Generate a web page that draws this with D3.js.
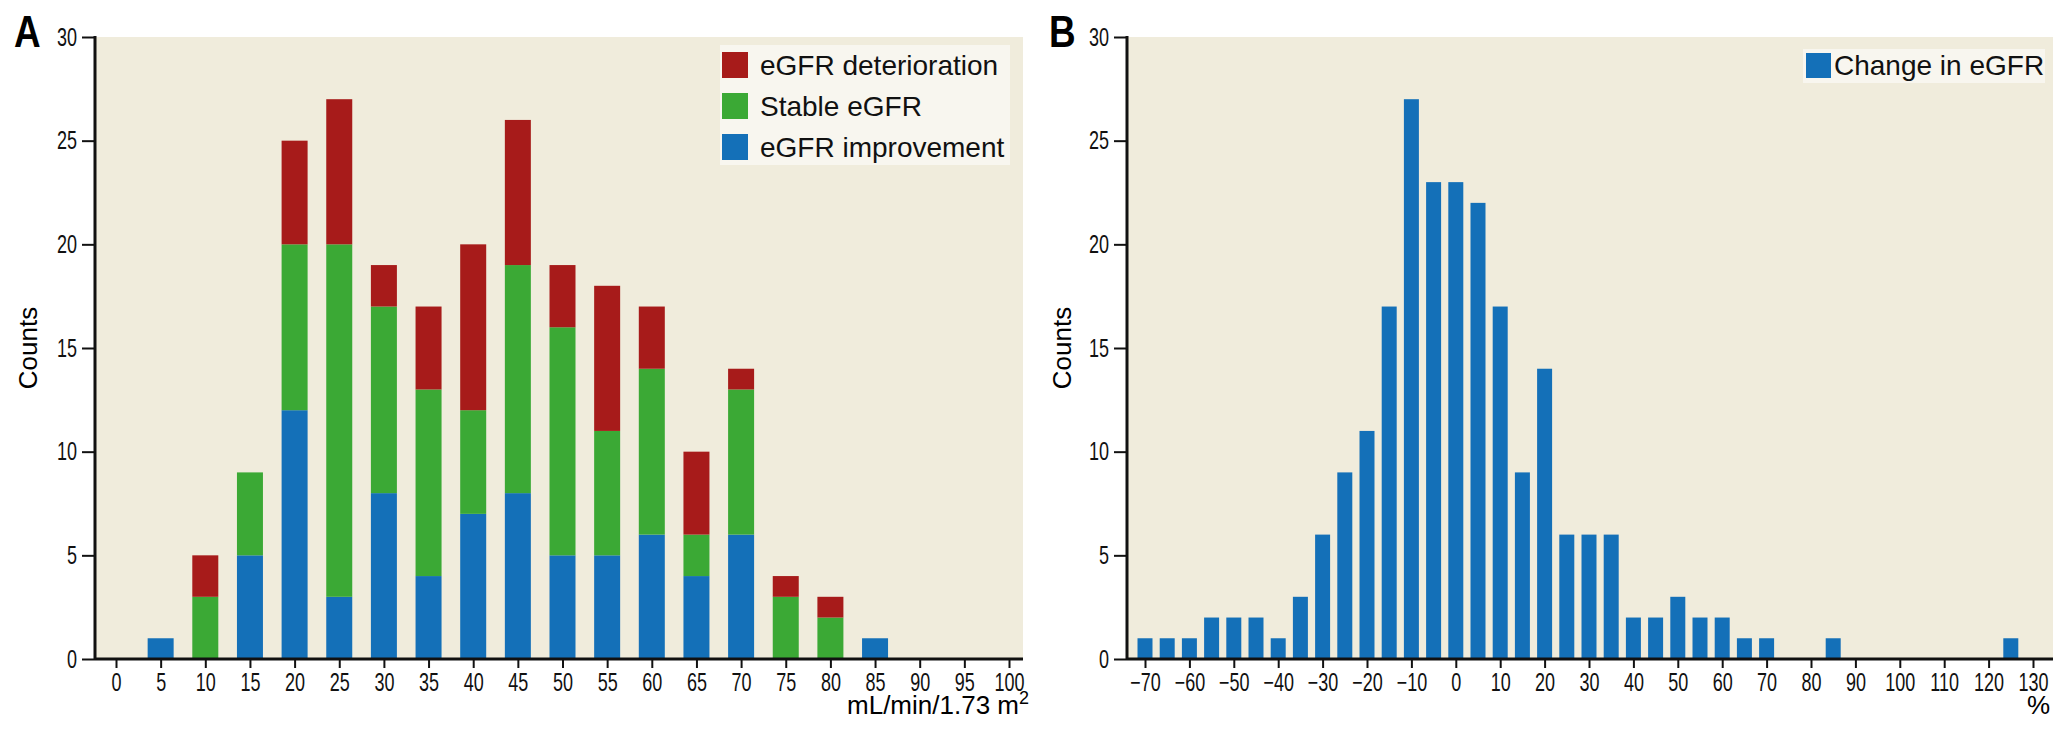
<!DOCTYPE html>
<html>
<head>
<meta charset="utf-8">
<script src="https://cdn.jsdelivr.net/npm/d3@7"></script>
<style>
  body { margin: 0; background: #fff; }
  svg { display: block; }
  .tick text { font-family: "Liberation Sans", Arial, sans-serif; font-size: 25px; fill: #111; }
</style>
</head>
<body>
<svg id="chart" width="2068" height="731"></svg>
<script>
// panel A: eGFR bins (mL/min/1.73 m2)
var binsA = [5, 10, 15, 20, 25, 30, 35, 40, 45, 50, 55, 60, 65, 70, 75, 80, 85];
var improvement = [1, 0, 5, 12, 3, 8, 4, 7, 8, 5, 5, 6, 4, 6, 0, 0, 1];
var stable = [0, 3, 4, 8, 17, 9, 9, 5, 11, 11, 6, 8, 2, 7, 3, 2, 0];
var deterioration = [0, 2, 0, 5, 7, 2, 4, 8, 7, 3, 7, 3, 4, 1, 1, 1, 0];
var seriesA = ["eGFR improvement", "Stable eGFR", "eGFR deterioration"];
var ticksA = d3.range(0, 101, 5);

// panel B: change in eGFR (%)
var binsB = [-70, -65, -60, -55, -50, -45, -40, -35, -30, -25, -20, -15, -10, -5, 0, 5, 10, 15, 20, 25, 30, 35, 40, 45, 50, 55, 60, 65, 70, 75, 80, 85, 90, 95, 100, 105, 110, 115, 120, 125];
var changeB = [1, 1, 1, 2, 2, 2, 1, 3, 6, 9, 11, 17, 27, 23, 23, 22, 17, 9, 14, 6, 6, 6, 2, 2, 3, 2, 2, 1, 1, 0, 0, 1, 0, 0, 0, 0, 0, 0, 0, 1];
var ticksB = d3.range(-70, 131, 10);

var colors = { "eGFR improvement": "#1470b8", "Stable eGFR": "#3ba935", "eGFR deterioration": "#a71b1a" };
var bg = "#f0ecdc";
var sans = '"Liberation Sans", Arial, sans-serif';
var squeeze = 0.72;

var svg = d3.select("#chart");
var plotTop = 37, plotBottom = 659;
var y = d3.scaleLinear().domain([0, 30]).range([plotBottom, plotTop]);

function frame(left, right, letter, letterX, countsX) {
    svg.append("rect")
        .attr("x", left).attr("y", plotTop)
        .attr("width", right - left).attr("height", plotBottom - plotTop)
        .attr("fill", bg);

    svg.append("text")
        .text(letter)
        .attr("transform", `translate(${letterX},47) scale(0.82,1)`)
        .style("font-family", sans)
        .style("font-weight", "bold")
        .style("font-size", "45px");

    svg.append("text")
        .text("Counts")
        .attr("transform", `translate(${countsX},348) rotate(-90)`)
        .attr("text-anchor", "middle")
        .style("font-family", sans)
        .style("font-size", "26px");
}

function axes(left, right, x, ticks, fmt) {
    var gx = svg.append("g")
        .attr("transform", `translate(0,${plotBottom})`)
        .call(d3.axisBottom(x).tickValues(ticks).tickSize(9).tickFormat(fmt));
    gx.select(".domain").remove();
    gx.selectAll(".tick line").attr("stroke", "#111").attr("stroke-width", 2);
    gx.selectAll(".tick text")
        .attr("y", 0).attr("dy", 0)
        .attr("transform", `translate(0,32) scale(${squeeze},1)`);
    svg.append("line")
        .attr("x1", left).attr("x2", right)
        .attr("y1", plotBottom).attr("y2", plotBottom)
        .attr("stroke", "#111").attr("stroke-width", 3);

    var gy = svg.append("g")
        .attr("transform", `translate(${left},0)`)
        .call(d3.axisLeft(y).ticks(6).tickSize(13));
    gy.select(".domain").remove();
    gy.selectAll(".tick line").attr("stroke", "#111").attr("stroke-width", 2);
    gy.selectAll(".tick text")
        .attr("x", 0)
        .attr("transform", `translate(-18,0) scale(${squeeze},1)`);
    svg.append("line")
        .attr("x1", left).attr("x2", left)
        .attr("y1", plotTop - 1).attr("y2", plotBottom + 1)
        .attr("stroke", "#111").attr("stroke-width", 3);
}

var minus = d => d < 0 ? "\u2212" + Math.abs(d) : String(d);

// ---- panel A ----
var xA = d3.scaleLinear().domain([0, 100]).range([116, 1009]);
frame(95, 1023, "A", 14, 37);

var rowsA = binsA.map((b, i) => ({
    bin: b,
    "eGFR improvement": improvement[i],
    "Stable eGFR": stable[i],
    "eGFR deterioration": deterioration[i]
}));
var stackA = d3.stack().keys(seriesA)(rowsA);
var barW = 26;

svg.append("g")
    .selectAll("g")
    .data(stackA)
    .join("g")
        .attr("fill", d => colors[d.key])
    .selectAll("rect")
    .data(d => d.filter(s => s[1] > s[0]))
    .join("rect")
        .attr("x", d => xA(d.data.bin) - barW / 2)
        .attr("y", d => y(d[1]))
        .attr("width", barW)
        .attr("height", d => y(d[0]) - y(d[1]));

axes(95, 1023, xA, ticksA, d => d);

svg.append("text")
    .attr("x", 1029).attr("y", 714)
    .attr("text-anchor", "end")
    .style("font-family", sans)
    .style("font-size", "26px")
    .html('mL/min/1.73 m<tspan dy="-10" font-size="18">2</tspan>');

// legend A
var legA = svg.append("g");
legA.append("rect")
    .attr("x", 720).attr("y", 45).attr("width", 290).attr("height", 120)
    .attr("fill", "#f8f6ef");
seriesA.slice().reverse().forEach(function(k, i) {
    legA.append("rect")
        .attr("x", 722).attr("y", 52 + i * 41)
        .attr("width", 26).attr("height", 26)
        .attr("fill", colors[k]);
    legA.append("text")
        .text(k)
        .attr("x", 760).attr("y", 75 + i * 41)
        .style("font-family", sans)
        .style("font-size", "28px")
        .style("fill", "#111");
});

// ---- panel B ----
var xB = d3.scaleLinear().domain([-70, 130]).range([1145, 2033]);
frame(1127, 2053, "B", 1049, 1071);

var barB = 15;
svg.append("g")
    .selectAll("rect")
    .data(binsB.map((b, i) => ({ bin: b, n: changeB[i] })).filter(d => d.n > 0))
    .join("rect")
        .attr("x", d => xB(d.bin) - barB / 2)
        .attr("y", d => y(d.n))
        .attr("width", barB)
        .attr("height", d => y(0) - y(d.n))
        .attr("fill", colors["eGFR improvement"]);

axes(1127, 2053, xB, ticksB, minus);

svg.append("text")
    .text("%")
    .attr("x", 2050).attr("y", 714)
    .attr("text-anchor", "end")
    .style("font-family", sans)
    .style("font-size", "26px");

var legB = svg.append("g");
legB.append("rect")
    .attr("x", 1803).attr("y", 49).attr("width", 242).attr("height", 34)
    .attr("fill", "#f8f6ef");
legB.append("rect")
    .attr("x", 1806).attr("y", 53)
    .attr("width", 25).attr("height", 25)
    .attr("fill", colors["eGFR improvement"]);
legB.append("text")
    .text("Change in eGFR")
    .attr("x", 1834).attr("y", 75)
    .style("font-family", sans)
    .style("font-size", "28px")
    .style("fill", "#111");
</script>
</body>
</html>
